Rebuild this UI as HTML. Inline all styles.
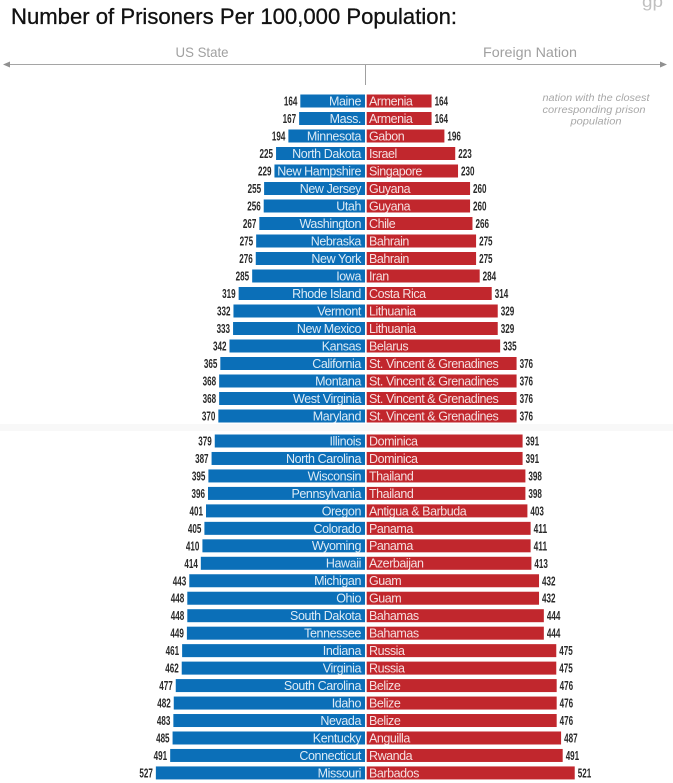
<!DOCTYPE html>
<html>
<head>
<meta charset="utf-8">
<style>
html,body{margin:0;padding:0;background:#fff;width:673px;height:783px;overflow:hidden}
svg{display:block;filter:blur(0.35px)}
text{font-family:"Liberation Sans",sans-serif}
</style>
</head>
<body>
<svg id="chart" width="673" height="783" viewBox="0 0 673 783" xmlns="http://www.w3.org/2000/svg">
  <rect x="0" y="424" width="673" height="7" fill="#f8f8f8"/>
  <text x="11" y="24" font-size="22" fill="#111" stroke="#111" stroke-width="0.3" textLength="446" lengthAdjust="spacingAndGlyphs">Number of Prisoners Per 100,000 Population:</text>
  <text x="642" y="7" font-size="17" fill="#c0c0c0" textLength="21" lengthAdjust="spacingAndGlyphs">gp</text>
  <text x="202" y="57" font-size="14" fill="#a0a0a0" text-anchor="middle" textLength="53" lengthAdjust="spacingAndGlyphs">US State</text>
  <text x="530" y="57" font-size="14" fill="#a0a0a0" text-anchor="middle" textLength="94" lengthAdjust="spacingAndGlyphs">Foreign Nation</text>
  <line x1="8" y1="64.5" x2="662" y2="64.5" stroke="#a5a5a5" stroke-width="1"/>
  <polygon points="3,64.5 10,61.5 10,67.5" fill="#909090"/>
  <polygon points="667,64.5 660,61.5 660,67.5" fill="#909090"/>
  <line x1="365.5" y1="65" x2="365.5" y2="85" stroke="#a0a0a0" stroke-width="1"/>
  <g font-size="10" font-style="italic" fill="#a8a8a8" text-anchor="middle">
    <text x="596" y="101" textLength="107" lengthAdjust="spacingAndGlyphs">nation with the closest</text>
    <text x="594" y="113" textLength="103" lengthAdjust="spacingAndGlyphs">corresponding prison</text>
    <text x="596" y="124.5" textLength="51" lengthAdjust="spacingAndGlyphs">population</text>
  </g>
  <g id="rows"></g>
</svg>
<script>
const states = ["Maine","Mass.","Minnesota","North Dakota","New Hampshire","New Jersey","Utah","Washington","Nebraska","New York","Iowa","Rhode Island","Vermont","New Mexico","Kansas","California","Montana","West Virginia","Maryland","Illinois","North Carolina","Wisconsin","Pennsylvania","Oregon","Colorado","Wyoming","Hawaii","Michigan","Ohio","South Dakota","Tennessee","Indiana","Virginia","South Carolina","Idaho","Nevada","Kentucky","Connecticut","Missouri"];
const stateValues = [164,167,194,225,229,255,256,267,275,276,285,319,332,333,342,365,368,368,370,379,387,395,396,401,405,410,414,443,448,448,449,461,462,477,482,483,485,491,527];
const nations = ["Armenia","Armenia","Gabon","Israel","Singapore","Guyana","Guyana","Chile","Bahrain","Bahrain","Iran","Costa Rica","Lithuania","Lithuania","Belarus","St. Vincent & Grenadines","St. Vincent & Grenadines","St. Vincent & Grenadines","St. Vincent & Grenadines","Dominica","Dominica","Thailand","Thailand","Antigua & Barbuda","Panama","Panama","Azerbaijan","Guam","Guam","Bahamas","Bahamas","Russia","Russia","Belize","Belize","Belize","Anguilla","Rwanda","Barbados"];
const nationValues = [164,164,196,223,230,260,260,266,275,275,284,314,329,329,335,376,376,376,376,391,391,398,398,403,411,411,413,432,432,444,444,475,475,476,476,476,487,491,521];
const firstSectionCount = 19;

const NS = "http://www.w3.org/2000/svg";
const rowsGroup = document.getElementById("rows");
function xLeft(v){ return 365.6 - v * 0.398; }
function xRight(v){ return 365.8 + v * 0.401; }
function yCenter(i){
  return i < firstSectionCount ? 101 + i * 17.5 : 441 + (i - firstSectionCount) * 17.47;
}
function make(tag, attrs, text){
  const el = document.createElementNS(NS, tag);
  for (const k in attrs) el.setAttribute(k, attrs[k]);
  if (text !== undefined) el.textContent = text;
  return el;
}
states.forEach(function(state, i){
  const cy = yCenter(i);
  const lx = xLeft(stateValues[i]);
  const rx = xRight(nationValues[i]);
  const slug = state.toLowerCase().replace(/[^a-z]+/g, "-");

  const row = make("g", {});
  
  

  const lb = make("rect", {x: lx, y: cy - 6.5, width: 365 - lx, height: 13, fill: "#0b6fb8"});
  
  
  row.appendChild(lb);

  const rb = make("rect", {x: 366.7, y: cy - 6.5, width: rx - 366.7, height: 13, fill: "#c1272d"});
  
  
  row.appendChild(rb);

  const sl = make("text", {x: 361, y: cy + 4.4, "font-size": 12.5, "letter-spacing": "-0.4", fill: "#dcebf6", "text-anchor": "end"}, state);
  
  
  row.appendChild(sl);

  const nl = make("text", {x: 369, y: cy + 4.4, "font-size": 12.5, "letter-spacing": "-0.45", fill: "#f6dfe0"}, nations[i]);
  
  
  row.appendChild(nl);

  const sv = make("text", {x: lx - 3, y: cy + 4.5, "font-size": 13, "font-weight": "bold", fill: "#2a2a2a", "text-anchor": "end", textLength: 13.5, lengthAdjust: "spacingAndGlyphs"}, stateValues[i]);
  
  
  row.appendChild(sv);

  const nv = make("text", {x: rx + 3, y: cy + 4.5, "font-size": 13, "font-weight": "bold", fill: "#2a2a2a", textLength: 13.5, lengthAdjust: "spacingAndGlyphs"}, nationValues[i]);
  
  
  row.appendChild(nv);

  rowsGroup.appendChild(row);
});
</script>
</body>
</html>
